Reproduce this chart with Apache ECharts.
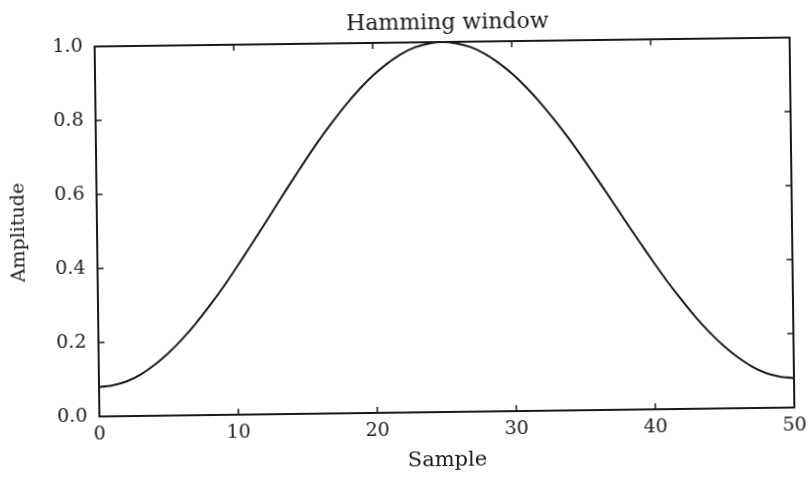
<!DOCTYPE html>
<html>
<head>
<meta charset="utf-8">
<script src="https://cdn.jsdelivr.net/npm/echarts@6/dist/echarts.min.js"></script>
<style>
  html, body { margin: 0; padding: 0; background: #fff; }
  #chart {
    width: 808px; height: 482px;
    transform: rotate(-0.74deg);
    transform-origin: 445px 227px;
  }
</style>
</head>
<body>
<div id="chart"></div>
<script>
// Hamming window, 51 samples
const samples = [
  0, 1, 2, 3, 4, 5, 6, 7, 8, 9,
  10, 11, 12, 13, 14, 15, 16, 17, 18, 19,
  20, 21, 22, 23, 24, 25, 26, 27, 28, 29,
  30, 31, 32, 33, 34, 35, 36, 37, 38, 39,
  40, 41, 42, 43, 44, 45, 46, 47, 48, 49, 50
];
const amplitude = [
  0.080, 0.084, 0.094, 0.112, 0.137, 0.168, 0.205, 0.247, 0.294, 0.344,
  0.398, 0.454, 0.511, 0.569, 0.626, 0.682, 0.736, 0.786, 0.833, 0.875,
  0.912, 0.943, 0.968, 0.986, 0.996, 1.000, 0.996, 0.986, 0.968, 0.943,
  0.912, 0.875, 0.833, 0.786, 0.736, 0.682, 0.626, 0.569, 0.511, 0.454,
  0.398, 0.344, 0.294, 0.247, 0.205, 0.168, 0.137, 0.112, 0.094, 0.084, 0.080
];
const xTicks = [0, 10, 20, 30, 40, 50];
const yTicks = [0.0, 0.2, 0.4, 0.6, 0.8, 1.0];

const serif = '"DejaVu Serif", "Liberation Serif", serif';
const ink = '#1a1a1a';

const chart = echarts.init(document.getElementById('chart'), null, { renderer: 'canvas' });

const tickStyle = { show: true, inside: true, length: 6, lineStyle: { color: ink, width: 1.5 } };
const lineStyle = { color: ink, width: 2 };

chart.setOption({
  animation: false,
  backgroundColor: '#fff',
  title: {
    text: 'Hamming window',
    left: 445, top: 7, textAlign: 'center',
    textStyle: { fontFamily: serif, fontWeight: 'normal', fontSize: 22, color: ink }
  },
  grid: { left: 97, right: 16, top: 42, bottom: 70 },
  xAxis: [{
    type: 'value', min: xTicks[0], max: xTicks[xTicks.length - 1], interval: 10,
    name: 'Sample', nameLocation: 'middle', nameGap: 38,
    nameTextStyle: { fontFamily: serif, fontSize: 21, color: ink },
    axisLine: { show: true, onZero: false, lineStyle },
    axisTick: tickStyle,
    splitLine: { show: false },
    axisLabel: { fontFamily: serif, fontSize: 19, color: ink, margin: 9 }
  }, {
    type: 'value', position: 'top', min: xTicks[0], max: xTicks[xTicks.length - 1], interval: 10,
    axisLine: { show: true, onZero: false, lineStyle },
    axisTick: tickStyle,
    splitLine: { show: false },
    axisLabel: { show: false }
  }],
  yAxis: [{
    type: 'value', min: yTicks[0], max: yTicks[yTicks.length - 1], interval: 0.2,
    name: 'Amplitude', nameLocation: 'middle', nameGap: 68, nameRotate: 90,
    nameTextStyle: { fontFamily: serif, fontSize: 19, color: ink },
    axisLine: { show: true, onZero: false, lineStyle },
    axisTick: tickStyle,
    splitLine: { show: false },
    axisLabel: { fontFamily: serif, fontSize: 19, color: ink, margin: 12,
                 formatter: v => v.toFixed(1) }
  }, {
    type: 'value', position: 'right', min: yTicks[0], max: yTicks[yTicks.length - 1], interval: 0.2,
    axisLine: { show: true, onZero: false, lineStyle },
    axisTick: tickStyle,
    splitLine: { show: false },
    axisLabel: { show: false }
  }],
  series: [{
    type: 'line',
    data: samples.map((s, i) => [s, amplitude[i]]),
    smooth: 0.3,
    showSymbol: false,
    lineStyle: { color: ink, width: 2 },
    clip: false
  }]
});
</script>
</body>
</html>
